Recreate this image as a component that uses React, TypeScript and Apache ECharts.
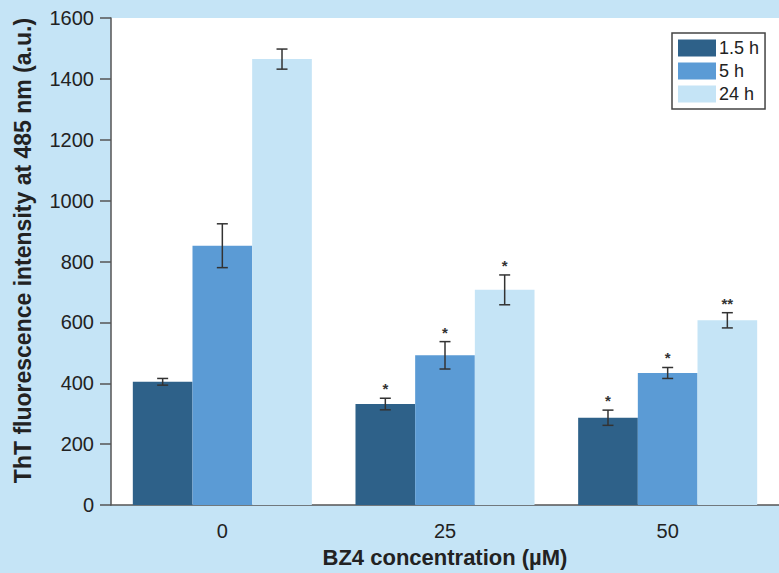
import React, { useEffect, useRef } from "react";
import * as echarts from "echarts";

// BZ4 concentrations (µM)
const categories = ["0", "25", "50"];
const seriesNames = ["1.5 h", "5 h", "24 h"];

// ThT fluorescence means and standard errors per incubation time
const values15h = [405, 332, 287];
const values5h = [852, 492, 434];
const values24h = [1465, 707, 607];
const err15h = [11, 19, 25];
const err5h = [72, 45, 18];
const err24h = [33, 49, 25];

// significance marks above each bar
const stars15h = ["", "*", "*"];
const stars5h = ["", "*", "*"];
const stars24h = ["", "*", "**"];

const colors = ["#2e6189", "#5b9bd5", "#c5e4f6"];
const BG = "#c5e4f6";
const CAT_GAP = 0.196;
const FONT = "'Liberation Sans', Arial, Helvetica, sans-serif";

const allValues = [values15h, values5h, values24h];
const allErrors = [err15h, err5h, err24h];
const allStars = [stars15h, stars5h, stars24h];

export default function App() {
  const ref = useRef<HTMLDivElement>(null);

  useEffect(() => {
    if (!ref.current) return;
    const chart = echarts.init(ref.current, undefined, { renderer: "svg" });

    const barSeries = seriesNames.map((name, i) => ({
      name,
      type: "bar",
      data: allValues[i],
      barGap: "0%",
      barCategoryGap: `${CAT_GAP * 100}%`,
      itemStyle: { color: colors[i] },
      z: 2,
    }));

    const errorSeries = seriesNames.map((name, i) => ({
      name: `${name} error`,
      type: "custom",
      z: 5,
      data: allValues[i].map((v, ci) => [ci, v, allErrors[i][ci]]),
      encode: { x: 0, y: 1 },
      renderItem: (params: any, api: any) => {
        const ci = api.value(0);
        const v = api.value(1);
        const e = api.value(2);
        const band = api.size([1, 0])[0];
        const bw = (band * (1 - CAT_GAP)) / 3;
        const off = (i - 1) * bw;
        const top = api.coord([ci, v + e]);
        const bot = api.coord([ci, v - e]);
        const x = top[0] + off;
        const cap = 5.5;
        const lineStyle = { stroke: "#333", lineWidth: 1.5 };
        const star = allStars[i][params.dataIndex];
        const children: any[] = [
          { type: "line", shape: { x1: x, y1: top[1], x2: x, y2: bot[1] }, style: lineStyle },
          { type: "line", shape: { x1: x - cap, y1: top[1], x2: x + cap, y2: top[1] }, style: lineStyle },
          { type: "line", shape: { x1: x - cap, y1: bot[1], x2: x + cap, y2: bot[1] }, style: lineStyle },
        ];
        if (star) {
          children.push({
            type: "text",
            x,
            y: top[1] - 17,
            style: {
              text: star,
              fill: "#333",
              font: `bold 15px ${FONT}`,
              align: "center",
              verticalAlign: "top",
            },
          });
        }
        return { type: "group", children };
      },
    }));

    chart.setOption({
      animation: false,
      backgroundColor: BG,
      textStyle: { fontFamily: FONT },
      grid: {
        left: 111,
        top: 18,
        width: 672,
        height: 490,
        show: true,
        backgroundColor: "#ffffff",
        borderWidth: 0,
      },
      legend: {
        data: seriesNames,
        orient: "vertical",
        left: 672,
        top: 33,
        padding: [6, 6, 6, 6],
        itemGap: 5,
        itemWidth: 38,
        itemHeight: 17,
        icon: "rect",
        backgroundColor: "#ffffff",
        borderColor: "#444",
        borderWidth: 1.5,
        borderRadius: 0,
        textStyle: { fontSize: 18, lineHeight: 17, color: "#222", padding: [0, 0, 0, -2] },
      },
      xAxis: {
        type: "category",
        data: categories,
        name: "BZ4 concentration (µM)",
        nameLocation: "middle",
        nameGap: 40,
        nameTextStyle: { fontSize: 22, fontWeight: "bold", color: "#222" },
        axisLine: { lineStyle: { color: "#555", width: 1.5 } },
        axisTick: { alignWithLabel: true, length: 10, lineStyle: { color: "#555", width: 1.5 } },
        axisLabel: { fontSize: 20, color: "#222", margin: 16 },
      },
      yAxis: {
        type: "value",
        min: 0,
        max: 1600,
        interval: 200,
        name: "ThT fluorescence intensity at 485 nm (a.u.)",
        nameLocation: "middle",
        nameGap: 77,
        nameTextStyle: { fontSize: 23, fontWeight: "bold", color: "#222", padding: [0, 0, 0, 22] },
        axisLine: { show: true, lineStyle: { color: "#555", width: 1.5 } },
        axisTick: { show: true, length: 11, lineStyle: { color: "#555", width: 1.5 } },
        axisLabel: { fontSize: 20, color: "#222", margin: 17, formatter: (v: number) => String(v) },
        splitLine: { show: false },
      },
      series: [...barSeries, ...errorSeries],
    });

    return () => chart.dispose();
  }, []);

  return (
    <div
      ref={ref}
      style={{ position: "fixed", left: 0, top: 0, width: 779, height: 573 }}
    />
  );
}
